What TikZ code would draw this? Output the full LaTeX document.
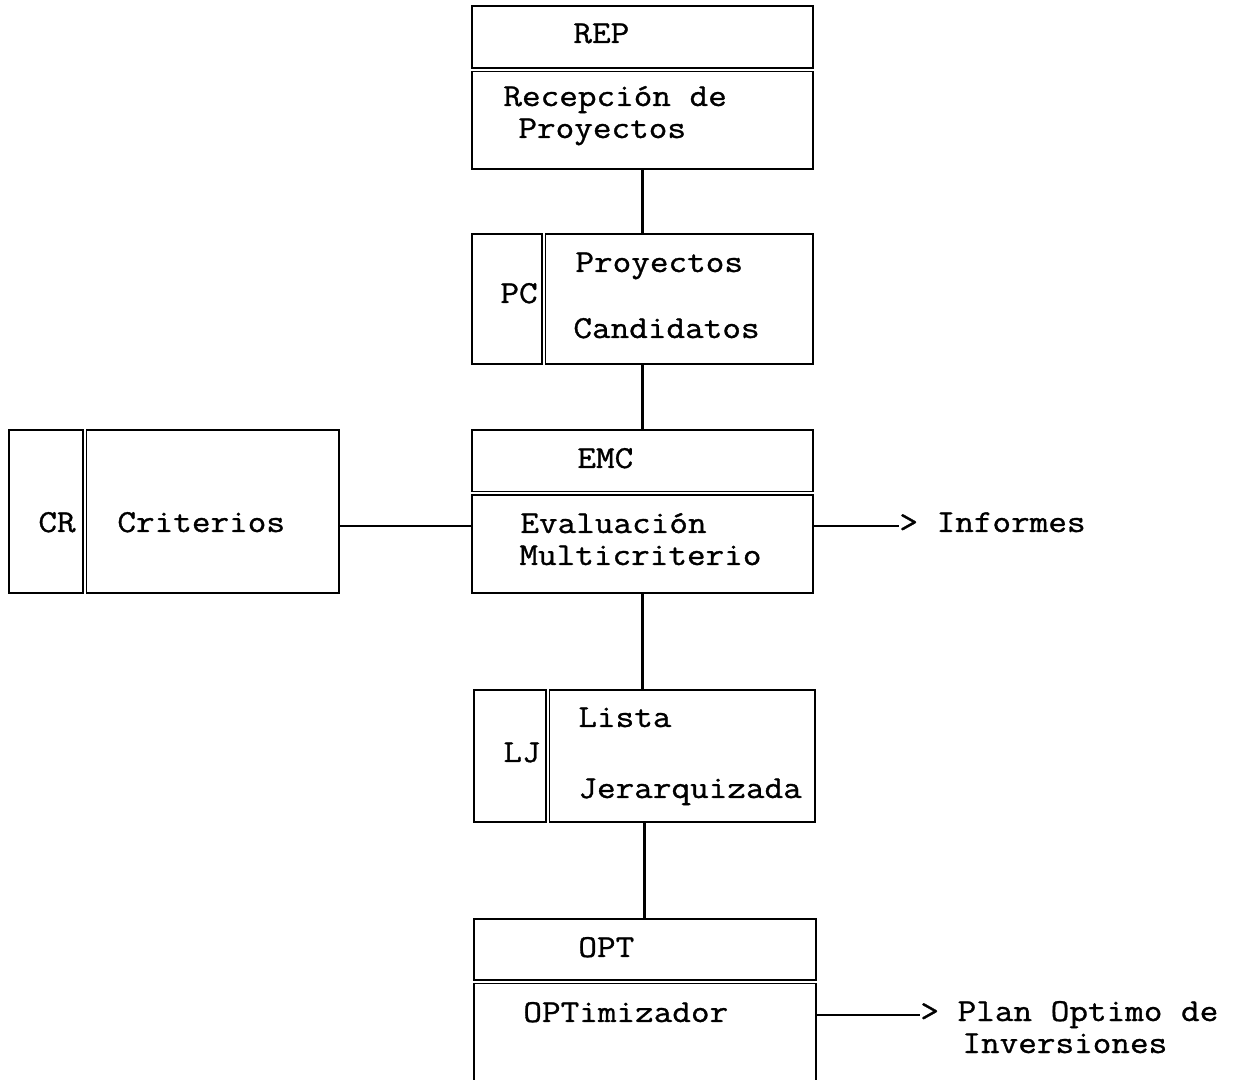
\documentclass[tikz,border=0pt]{standalone}
\usepackage{fontspec}
\setmonofont{Latin Modern Mono}[FakeStretch=1.13,FakeBold=1]
\usepackage{tikz}

\tikzset{
  box/.style={draw,line width=1.2pt,inner sep=0pt},
  dbl/.style={double,double distance=0.8pt,line width=0.9pt},
  lbl/.style={anchor=base west,inner sep=0pt,font=\ttfamily\fontsize{16pt}{19pt}\selectfont},
  link/.style={line width=1.1pt}
}

\begin{document}
\begin{tikzpicture}[x=0.5pt,y=-0.5pt]
\clip (0,0) rectangle (1244,1080);
\node[box,minimum width=170.5pt,minimum height=81.5pt] (rep) at (642.5,87.5) {};
\node[box,minimum width=170.5pt,minimum height=65pt] (pc) at (642.5,299) {};
\node[box,minimum width=170.5pt,minimum height=81.5pt] (emc) at (642.5,511.5) {};
\node[box,minimum width=165pt,minimum height=81.5pt] (cr) at (174,511.5) {};
\node[box,minimum width=170.5pt,minimum height=66pt] (lj) at (644.5,756) {};
\node[box,minimum width=171pt,minimum height=90.5pt] (opt) at (645,1009.5) {};
\draw[dbl] ([yshift=-32.5pt]rep.north west) -- ([yshift=-32.5pt]rep.north east);
\draw[dbl] ([yshift=-32.25pt]emc.north west) -- ([yshift=-32.25pt]emc.north east);
\draw[dbl] ([yshift=-32pt]opt.north west) -- ([yshift=-32pt]opt.north east);
\draw[dbl] ([xshift=36.5pt]pc.north west) -- ([xshift=36.5pt]pc.south west);
\draw[dbl] ([xshift=38.5pt]cr.north west) -- ([xshift=38.5pt]cr.south west);
\draw[dbl] ([xshift=37.5pt]lj.north west) -- ([xshift=37.5pt]lj.south west);
\draw[link] (rep) -- (pc);
\draw[link] (pc) -- (emc);
\draw[link] (emc.south) -- (emc.south |- lj.north);
\draw[link] (lj.south) -- (lj.south |- opt.north);
\draw[link] ([yshift=-7.25pt]cr.east) -- ([yshift=-7.25pt]emc.west);
\coordinate (infend) at (899,526);
\draw[link] (emc.east |- infend) -- (infend);
\coordinate (planend) at (920,1015);
\draw[link] (opt.east |- planend) -- (planend);
\node[lbl] (reptag) at (573,43) {REP};
\node[lbl] (reptxt1) at (503,106) {Recepción de};
\node[lbl] (reptxt2) at (518,138) {Proyectos};
\node[lbl] (pctag) at (500,303) {PC};
\node[lbl] (pctxt1) at (575,272) {Proyectos};
\node[lbl] (pctxt2) at (573,338) {Candidatos};
\node[lbl] (emctag) at (577,468) {EMC};
\node[lbl] (emctxt1) at (520,533) {Evaluación};
\node[lbl] (emctxt2) at (519,565) {Multicriterio};
\node[lbl] (crtag) at (38,532) {CR};
\node[lbl] (crtxt) at (117,532) {Criterios};
\node[lbl] (inf) at (899,532) {> Informes};
\node[lbl] (ljtag) at (503,762) {LJ};
\node[lbl] (ljtxt1) at (578,727) {Lista};
\node[lbl] (ljtxt2) at (578,798) {Jerarquizada};
\node[lbl] (opttag) at (578,957) {OPT};
\node[lbl] (opttxt) at (523,1022) {OPTimizador};
\node[lbl] (plan1) at (920,1021) {> Plan Optimo de};
\node[lbl] (plan2) at (962,1053) {Inversiones};
\end{tikzpicture}
\end{document}
